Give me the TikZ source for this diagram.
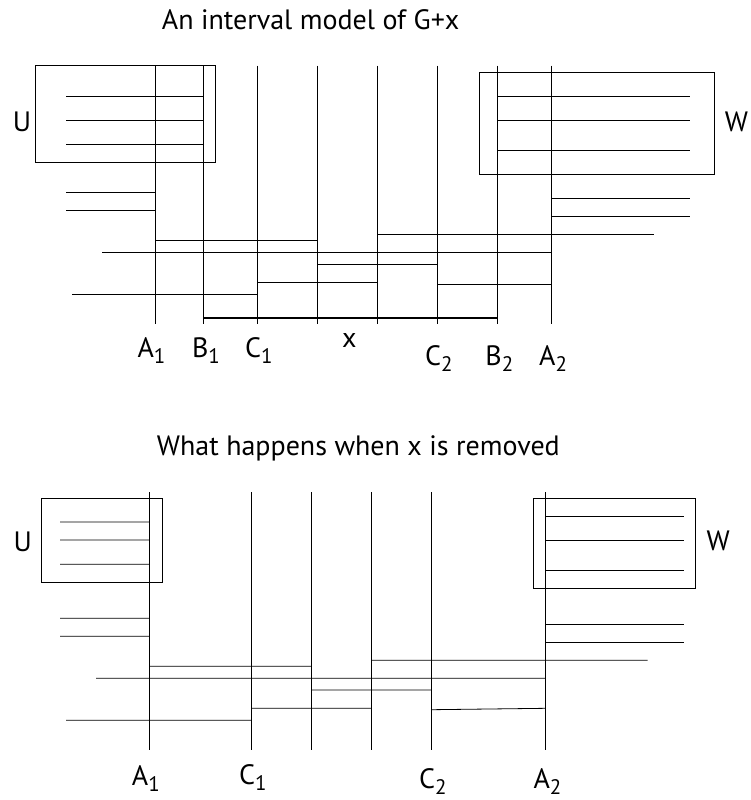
\documentclass[tikz,border=0pt]{standalone}
\usepackage{fontspec}
\setmainfont{PT Sans}
\newcommand{\ivsub}[1]{\raisebox{-6pt}{\fontsize{21}{21}\selectfont #1}}
\tikzset{
  interval/.style={line width=0.8pt},
  lab/.style={inner sep=0pt,anchor=base west,font=\fontsize{28}{28}\selectfont}
}
\begin{document}
\begin{tikzpicture}[x=1pt,y=-1pt]
            \useasboundingbox (0,0) rectangle (751,800);
            % top: the model of G+x
            \node[lab] (title1) at (161.7,30) {An interval model of G+x};
            \draw[interval] (35.7,65.7) rectangle (215.7,162.3);
            \draw[interval] (479.3,72.3) rectangle (714,174);
            \draw[interval] (155.7,65.7) -- (155.7,323.5) (203.7,65.7) -- (203.7,323.5)
                (257.3,65.7) -- (257.3,323.5) (317.3,65.7) -- (317.3,323.5)
                (377.5,65.7) -- (377.5,323.5) (437.7,65.7) -- (437.7,323.5)
                (497.7,65.7) -- (497.7,323.5) (551.7,65.7) -- (551.7,323.5);
            \draw[interval] (66,96.3) -- (203.7,96.3) (66,120.3) -- (203.7,120.3)
                (66,144.3) -- (203.7,144.3) (66,192.3) -- (155.7,192.3)
                (66,210) -- (155.7,210) (155.7,240.3) -- (317.3,240.3)
                (102,252) -- (551.7,252) (317.3,264.3) -- (437.7,264.3)
                (257.3,282.3) -- (377.5,282.3) (72,294.3) -- (257.3,294.3)
                (377.5,234) -- (653.7,234) (437.7,284) -- (551.7,284);
            \draw[interval] (497.7,96.3) -- (690,96.3) (497.7,120.3) -- (690,120.3)
                (497.7,150) -- (690,150) (551.7,198) -- (690,198)
                (551.7,216) -- (690,216);
            \draw[line width=1.8pt] (203.7,317.7) -- (497.7,317.7);
            \node[lab] (U1) at (12.7,131.7) {U};
            \node[lab] (W1) at (724.7,131) {W};
            \node[lab] (A1t) at (137.3,357.3) {A\ivsub{1}};
            \node[lab] (B1t) at (191.8,357.3) {B\ivsub{1}};
            \node[lab] (C1t) at (245,357.3) {C\ivsub{1}};
            \node[lab] (xt) at (342,347.3) {x};
            \node[lab] (C2t) at (425,365) {C\ivsub{2}};
            \node[lab] (B2t) at (485.2,365) {B\ivsub{2}};
            \node[lab] (A2t) at (539,365) {A\ivsub{2}};
            % bottom: x taken out
            \node[lab] (title2) at (156.7,455) {What happens when x is removed};
            \draw[interval] (41.3,498.3) rectangle (162,582.3);
            \draw[interval] (533.7,498.3) rectangle (695.7,588);
            \draw[interval] (149.7,492.3) -- (149.7,750) (251.7,492.3) -- (251.7,750)
                (311.7,492.3) -- (311.7,750) (371.7,492.3) -- (371.7,750)
                (431.7,492.3) -- (431.7,750) (545.7,492.3) -- (545.7,750);
            \draw[interval] (60,522) -- (149.7,522) (60,540) -- (149.7,540)
                (60,564.3) -- (149.7,564.3) (60,618.3) -- (149.7,618.3)
                (60,636.3) -- (149.7,636.3) (149.7,666.3) -- (311.7,666.3)
                (96,678.3) -- (545.7,678.3) (311.7,690) -- (431.7,690)
                (251.7,708.3) -- (371.7,708.3) (66,720.3) -- (251.7,720.3)
                (371.7,660.3) -- (647.7,660.3) (431.7,709.7) -- (545.7,708.3);
            \draw[interval] (545.7,516.3) -- (683.7,516.3) (545.7,540) -- (683.7,540)
                (545.7,570) -- (683.7,570) (545.7,624) -- (683.7,624)
                (545.7,642) -- (683.7,642);
            \node[lab] (U2) at (13.3,551.7) {U};
            \node[lab] (W2) at (706.3,550.7) {W};
            \node[lab] (A1b) at (131.7,785.7) {A\ivsub{1}};
            \node[lab] (C1b) at (239,784.3) {C\ivsub{1}};
            \node[lab] (C2b) at (419,788.5) {C\ivsub{2}};
            \node[lab] (A2b) at (533.3,788.5) {A\ivsub{2}};
        \end{tikzpicture}
\end{document}
